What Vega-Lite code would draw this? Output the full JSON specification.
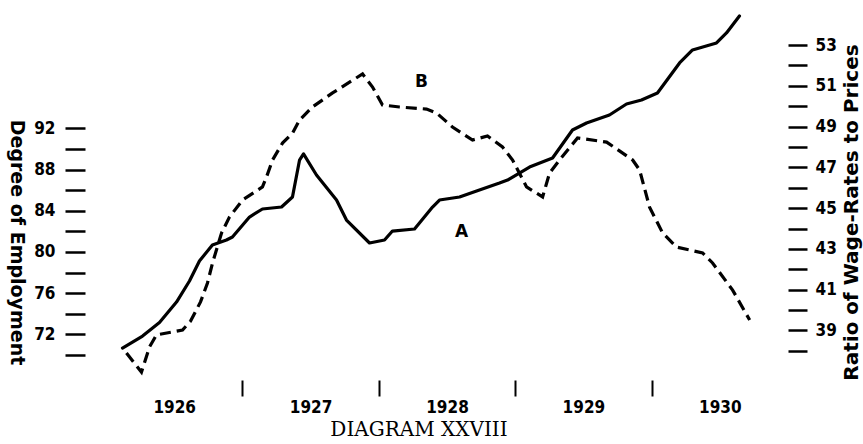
{
  "$schema": "https://vega.github.io/schema/vega-lite/v6.json",
  "autosize": {"type": "none"},
  "width": 682,
  "height": 370,
  "padding": {"left": 106, "top": 10, "right": 75, "bottom": 64},
  "background": "white",
  "config": {
    "view": {"stroke": null},
    "axis": {"grid": false, "domain": false, "tickColor": "black", "labelColor": "black", "titleColor": "black"}
  },
  "title": {
    "text": "DIAGRAM XXVIII",
    "orient": "bottom",
    "anchor": "middle",
    "font": "DejaVu Serif",
    "fontSize": 20,
    "fontWeight": "normal",
    "offset": 5,
    "dx": -28,
    "color": "black"
  },
  "datasets": {
    "series": [
      {"series": "A", "t": 1926.121, "v": 70.68},
      {"series": "A", "t": 1926.268, "v": 71.84},
      {"series": "A", "t": 1926.392, "v": 73.15},
      {"series": "A", "t": 1926.517, "v": 75.14},
      {"series": "A", "t": 1926.612, "v": 77.18},
      {"series": "A", "t": 1926.685, "v": 79.12},
      {"series": "A", "t": 1926.780, "v": 80.68},
      {"series": "A", "t": 1926.883, "v": 81.16},
      {"series": "A", "t": 1926.927, "v": 81.45},
      {"series": "A", "t": 1927.052, "v": 83.39},
      {"series": "A", "t": 1927.147, "v": 84.17},
      {"series": "A", "t": 1927.287, "v": 84.36},
      {"series": "A", "t": 1927.367, "v": 85.33},
      {"series": "A", "t": 1927.419, "v": 88.92},
      {"series": "A", "t": 1927.448, "v": 89.51},
      {"series": "A", "t": 1927.543, "v": 87.47},
      {"series": "A", "t": 1927.690, "v": 85.04},
      {"series": "A", "t": 1927.763, "v": 83.10},
      {"series": "A", "t": 1927.932, "v": 80.87},
      {"series": "A", "t": 1928.042, "v": 81.16},
      {"series": "A", "t": 1928.100, "v": 82.03},
      {"series": "A", "t": 1928.262, "v": 82.23},
      {"series": "A", "t": 1928.394, "v": 84.36},
      {"series": "A", "t": 1928.445, "v": 85.04},
      {"series": "A", "t": 1928.592, "v": 85.33},
      {"series": "A", "t": 1928.717, "v": 85.92},
      {"series": "A", "t": 1928.885, "v": 86.69},
      {"series": "A", "t": 1928.944, "v": 86.98},
      {"series": "A", "t": 1929.105, "v": 88.24},
      {"series": "A", "t": 1929.274, "v": 89.12},
      {"series": "A", "t": 1929.420, "v": 91.84},
      {"series": "A", "t": 1929.523, "v": 92.51},
      {"series": "A", "t": 1929.691, "v": 93.29},
      {"series": "A", "t": 1929.816, "v": 94.36},
      {"series": "A", "t": 1929.926, "v": 94.75},
      {"series": "A", "t": 1930.043, "v": 95.43},
      {"series": "A", "t": 1930.205, "v": 98.34},
      {"series": "A", "t": 1930.300, "v": 99.60},
      {"series": "A", "t": 1930.476, "v": 100.28},
      {"series": "A", "t": 1930.549, "v": 101.25},
      {"series": "A", "t": 1930.644, "v": 102.90},
      {"series": "B", "t": 1926.150, "v": 37.89},
      {"series": "B", "t": 1926.260, "v": 36.96},
      {"series": "B", "t": 1926.319, "v": 38.19},
      {"series": "B", "t": 1926.370, "v": 38.78},
      {"series": "B", "t": 1926.561, "v": 39.02},
      {"series": "B", "t": 1926.620, "v": 39.46},
      {"series": "B", "t": 1926.693, "v": 40.40},
      {"series": "B", "t": 1926.744, "v": 41.33},
      {"series": "B", "t": 1926.781, "v": 42.31},
      {"series": "B", "t": 1926.847, "v": 43.78},
      {"series": "B", "t": 1926.905, "v": 44.56},
      {"series": "B", "t": 1927.001, "v": 45.40},
      {"series": "B", "t": 1927.147, "v": 46.04},
      {"series": "B", "t": 1927.177, "v": 46.53},
      {"series": "B", "t": 1927.221, "v": 47.36},
      {"series": "B", "t": 1927.294, "v": 48.19},
      {"series": "B", "t": 1927.368, "v": 48.68},
      {"series": "B", "t": 1927.419, "v": 49.32},
      {"series": "B", "t": 1927.514, "v": 49.96},
      {"series": "B", "t": 1927.661, "v": 50.65},
      {"series": "B", "t": 1927.881, "v": 51.58},
      {"series": "B", "t": 1927.954, "v": 50.94},
      {"series": "B", "t": 1928.027, "v": 50.06},
      {"series": "B", "t": 1928.152, "v": 49.96},
      {"series": "B", "t": 1928.350, "v": 49.86},
      {"series": "B", "t": 1928.423, "v": 49.67},
      {"series": "B", "t": 1928.540, "v": 48.98},
      {"series": "B", "t": 1928.687, "v": 48.34},
      {"series": "B", "t": 1928.797, "v": 48.54},
      {"series": "B", "t": 1928.907, "v": 48.00},
      {"series": "B", "t": 1928.981, "v": 47.36},
      {"series": "B", "t": 1929.083, "v": 46.04},
      {"series": "B", "t": 1929.201, "v": 45.55},
      {"series": "B", "t": 1929.252, "v": 46.72},
      {"series": "B", "t": 1929.325, "v": 47.36},
      {"series": "B", "t": 1929.457, "v": 48.44},
      {"series": "B", "t": 1929.670, "v": 48.24},
      {"series": "B", "t": 1929.861, "v": 47.36},
      {"series": "B", "t": 1929.912, "v": 46.87},
      {"series": "B", "t": 1929.985, "v": 45.05},
      {"series": "B", "t": 1930.081, "v": 43.78},
      {"series": "B", "t": 1930.183, "v": 43.09},
      {"series": "B", "t": 1930.374, "v": 42.80},
      {"series": "B", "t": 1930.447, "v": 42.31},
      {"series": "B", "t": 1930.594, "v": 40.98},
      {"series": "B", "t": 1930.719, "v": 39.51}
    ],
    "labels": [
      {"series": "A", "t": 1928.606, "v": 81.94, "label": "A"},
      {"series": "B", "t": 1928.313, "v": 51.19, "label": "B"}
    ]
  },
  "layer": [
    {
      "encoding": {
        "x": {
          "field": "t", "type": "quantitative",
          "scale": {"domain": [1926, 1931], "nice": false, "zero": false},
          "axis": {"orient": "bottom", "values": [1927, 1928, 1929, 1930], "labels": false, "ticks": true, "tickSize": 16, "tickWidth": 2, "title": null}
        },
        "y": {
          "field": "v", "type": "quantitative",
          "scale": {"domain": [67.575, 103.48], "nice": false, "zero": false},
          "axis": {
            "orient": "left",
            "values": [70, 72, 74, 76, 78, 80, 82, 84, 86, 88, 90, 92],
            "labelExpr": "datum.value % 4 === 0 ? datum.label : ''",
            "offset": 21, "tickSize": 20, "tickWidth": 2.5, "labelPadding": 10,
            "labelFont": "DejaVu Sans Condensed, DejaVu Sans", "labelFontSize": 17, "labelFontWeight": "bold",
            "title": "Degree of Employment",
            "titleFont": "DejaVu Sans", "titleFontSize": 19, "titleFontWeight": "bold",
            "titleAngle": 90, "titleAlign": "center", "titleBaseline": "middle",
            "titleX": -69, "titleY": 232
          }
        }
      },
      "layer": [
        {
          "data": {"name": "series"},
          "transform": [{"filter": "datum.series === 'A'"}],
          "mark": {"type": "line", "color": "black", "strokeWidth": 3.2, "strokeJoin": "round", "strokeCap": "round"}
        },
        {
          "data": {"name": "labels"},
          "transform": [{"filter": "datum.series === 'A'"}],
          "mark": {"type": "text", "font": "DejaVu Sans", "fontWeight": "bold", "fontSize": 17, "color": "black"},
          "encoding": {"text": {"field": "label"}}
        }
      ]
    },
    {
      "encoding": {
        "x": {
          "field": "t", "type": "quantitative",
          "scale": {"domain": [1926, 1931], "nice": false, "zero": false},
          "axis": {
            "orient": "bottom", "values": [1926.5, 1927.5, 1928.5, 1929.5, 1930.5],
            "labelExpr": "floor(datum.value)", "ticks": false, "tickSize": 0, "labelPadding": 19,
            "labelFont": "DejaVu Sans Condensed, DejaVu Sans", "labelFontSize": 17, "labelFontWeight": "bold",
            "labelOverlap": false, "labelFlush": false, "labelBound": false, "title": null
          }
        },
        "y": {
          "field": "v", "type": "quantitative",
          "scale": {"domain": [36.571, 54.717], "nice": false, "zero": false},
          "axis": {
            "orient": "right",
            "values": [38, 39, 40, 41, 42, 43, 44, 45, 46, 47, 48, 49, 50, 51, 52, 53],
            "labelExpr": "datum.value % 2 === 1 ? datum.label : ''",
            "offset": 0, "tickSize": 19, "tickWidth": 2.5, "labelPadding": 8,
            "labelFont": "DejaVu Sans Condensed, DejaVu Sans", "labelFontSize": 17, "labelFontWeight": "bold",
            "title": "Ratio of Wage-Rates to Prices",
            "titleFont": "DejaVu Sans", "titleFontSize": 20, "titleFontWeight": "bold",
            "titleAngle": -90, "titleAlign": "center", "titleBaseline": "middle",
            "titleX": 63, "titleY": 202
          }
        }
      },
      "layer": [
        {
          "data": {"name": "series"},
          "transform": [{"filter": "datum.series === 'B'"}],
          "mark": {"type": "line", "color": "black", "strokeWidth": 3.2, "strokeDash": [11, 6], "strokeCap": "butt"}
        },
        {
          "data": {"name": "labels"},
          "transform": [{"filter": "datum.series === 'B'"}],
          "mark": {"type": "text", "font": "DejaVu Sans", "fontWeight": "bold", "fontSize": 17, "color": "black"},
          "encoding": {"text": {"field": "label"}}
        }
      ]
    }
  ],
  "resolve": {"scale": {"y": "independent"}, "axis": {"x": "independent", "y": "independent"}}
}
